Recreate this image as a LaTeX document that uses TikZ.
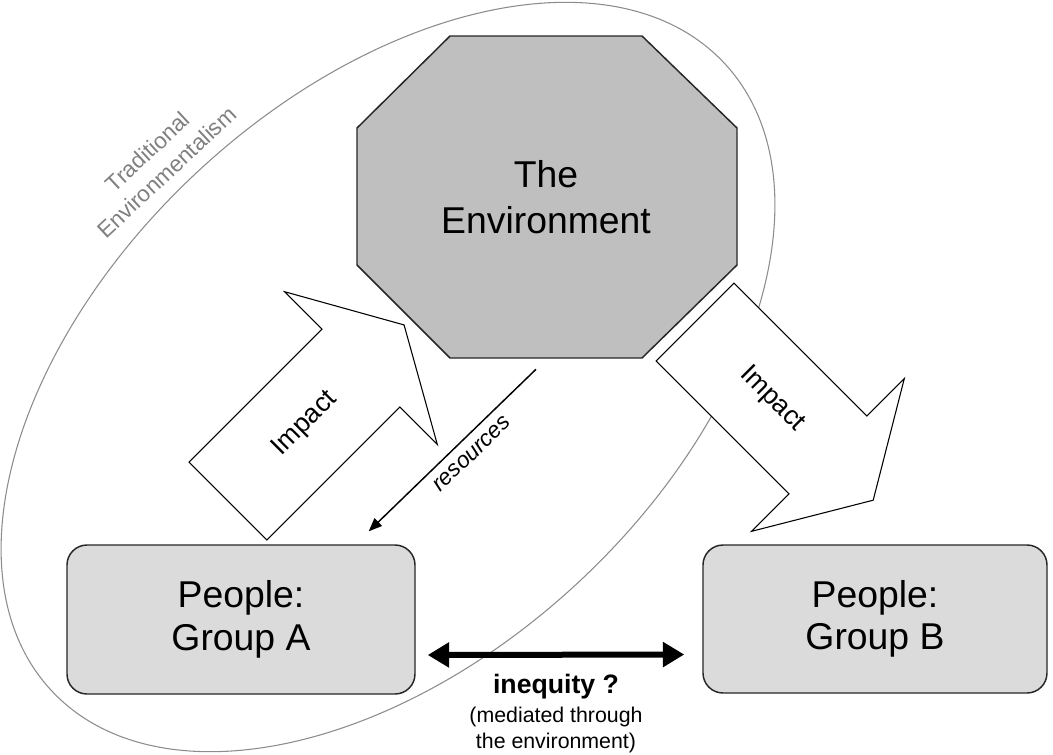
\documentclass[tikz,border=0pt]{standalone}
\usepackage{fontspec}
\setmainfont{Liberation Sans}
\usepackage{tikz}
\usetikzlibrary{arrows.meta}
\usetikzlibrary{positioning}

\begin{document}
\begin{tikzpicture}[x=0.75pt,y=-0.75pt]
\tikzstyle{people} = [draw=black!85, line width=1.1pt, fill=black!14, rounded corners=15pt, align=center, font=\fontsize{28}{32}\selectfont]
\tikzstyle{impact} = [draw=black, line width=0.8pt, fill=white, line join=miter]
\tikzstyle{impact label} = [font=\fontsize{20}{24}\selectfont]
\useasboundingbox (0,0) rectangle (1053,754);

% traditional environmentalism: tilted ellipse round env + group A
\draw[black!45, line width=0.8pt, rotate around={43:(388,377)}] (388,377) ellipse [x radius=345pt, y radius=210pt];
\node[rotate=43, text=black!50, align=center, font=\fontsize{17}{21}\selectfont] (tradition) at (157,162) {Traditional\\Environmentalism};

% the environment (octagon)
\draw[draw=black!85, line width=1.1pt, fill=black!25] (450,36) -- (642,36) -- (737,128) -- (737,265) -- (642,358) -- (450,358) -- (357,265) -- (357,128) -- cycle;
\node[minimum width=285pt, minimum height=241.5pt, align=center, font=\fontsize{28}{34}\selectfont] (env) at (546,197) {The\\Environment};

% the two groups
\node[people, minimum width=261pt, minimum height=111.75pt] (groupA) at (241,619.5) {People:\\Group A};
\node[people, minimum width=258pt, minimum height=111pt] (groupB) at (875,619) {People:\\Group B};

% impact arrows
\begin{scope}[shift={(228,501)}, rotate=45]
\draw[impact] (0,-55) -- (188,-55) -- (188,-108) -- (249,0) -- (188,108) -- (188,55) -- (0,55) -- cycle;
\node[impact label, rotate=45] (impactA) at (109,0) {Impact};
\end{scope}
\begin{scope}[shift={(695,322)}, rotate=-45]
\draw[impact] (0,-55) -- (188,-55) -- (188,-108) -- (252,0) -- (188,108) -- (188,55) -- (0,55) -- cycle;
\node[impact label, rotate=-45] (impactB) at (109,0) {Impact};
\end{scope}

% resources flow to group A
\draw[line width=1.1pt, -{Triangle[length=10pt,width=8pt]}] ([shift={(-10,11)}]env.south) -- node[pos=0.45, rotate=44, anchor=north, inner sep=7pt, font=\itshape\fontsize{17}{20}\selectfont] (res) {resources} ([shift={(-47,-13)}]groupA.north east);

% inequity between the groups
\draw[line width=4.5pt, {Triangle[length=16pt,width=18pt]}-{Triangle[length=16pt,width=18pt]}] ([shift={(12,35.5)}]groupA.east) -- node[midway, below=9pt, font=\bfseries\fontsize{20}{24}\selectfont] (ineq) {inequity ?} ([shift={(-18,35.5)}]groupB.west);
\node[below=-3pt of ineq, align=center, font=\fontsize{16}{19}\selectfont] (ineqnote) {(mediated through\\the environment)};
\end{tikzpicture}
\end{document}
